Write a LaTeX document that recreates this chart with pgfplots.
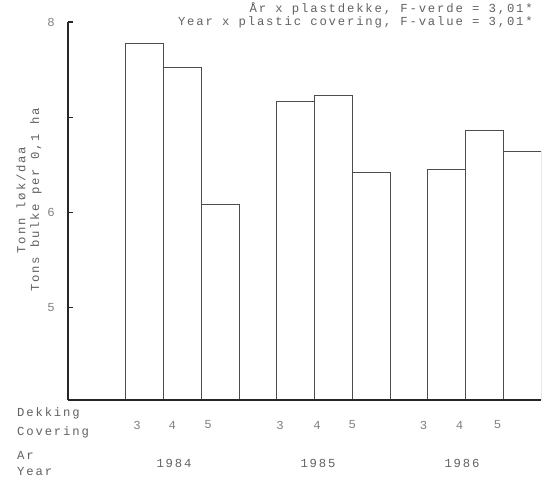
\documentclass[border=0pt]{standalone}
\usepackage{fontspec}
\setmainfont{Liberation Mono}[LetterSpace=15]
\usepackage{pgfplots}
\pgfplotsset{compat=1.18}
\definecolor{txt}{gray}{0.38}
\begin{document}
\fontsize{12.3}{12.3}\selectfont
\begin{tikzpicture}
\useasboundingbox (-68bp,-85bp) rectangle (478bp,400bp);
\begin{axis}[
  at={(0,0)}, anchor=south west,
  scale only axis, width=473bp, height=378bp,
  xmin=-2.03, xmax=10.5, ymin=4.03, ymax=8,
  axis on top,
  axis lines*=left,
  x axis line style={black!85, line width=1.8bp},
  y axis line style={black!85, line width=2.4bp},
  /pgf/number format/assume math mode=true,
  ytick={5,6,7,8}, yticklabels={5,6,,8},
  tick align=inside, major tick length=5bp,
  ytick style={black!85, line width=1.2bp},
  yticklabel style={xshift=-9bp, text=txt!80},
  xtick={-0.2,0.73,1.68,3.59,4.57,5.5,7.39,8.34,9.35},
  xticklabels={3,4,5,3,4,5,3,4,5},
  xtick style={draw=none},
  xticklabel style={anchor=center, yshift=-25bp, text=txt!80},
  clip=true,
]
\addplot[ybar, bar width=1, draw=black!70, fill=white, line width=0.9bp]
  coordinates {(0,7.77)(1,7.52)(2,6.08)(4,7.17)(5,7.23)(6,6.42)(8,6.45)(9,6.86)(10,6.64)};
\end{axis}
\begin{scope}[every node/.style={text=txt, inner sep=0pt}]
\node[anchor=base east] at (465bp,387bp) {År x plastdekke, F-verde = 3,01*};
\node[anchor=base east] at (465bp,374.5bp) {Year x plastic covering, F-value = 3,01*};
\node[rotate=90] at (-47bp,200bp) {Tonn løk/daa};
\node[rotate=90] at (-32bp,200bp) {Tons bulke per 0,1 ha};
\node[anchor=west] at (-51bp,-13bp) {Dekking};
\node[anchor=west] at (-51bp,-32bp) {Covering};
\node[anchor=west] at (-51bp,-55bp) {Ar};
\node[anchor=west] at (-51bp,-72bp) {Year};
\node at (106bp,-63bp) {1984};
\node at (250bp,-63bp) {1985};
\node at (394bp,-63bp) {1986};
\end{scope}
\end{tikzpicture}
\end{document}
